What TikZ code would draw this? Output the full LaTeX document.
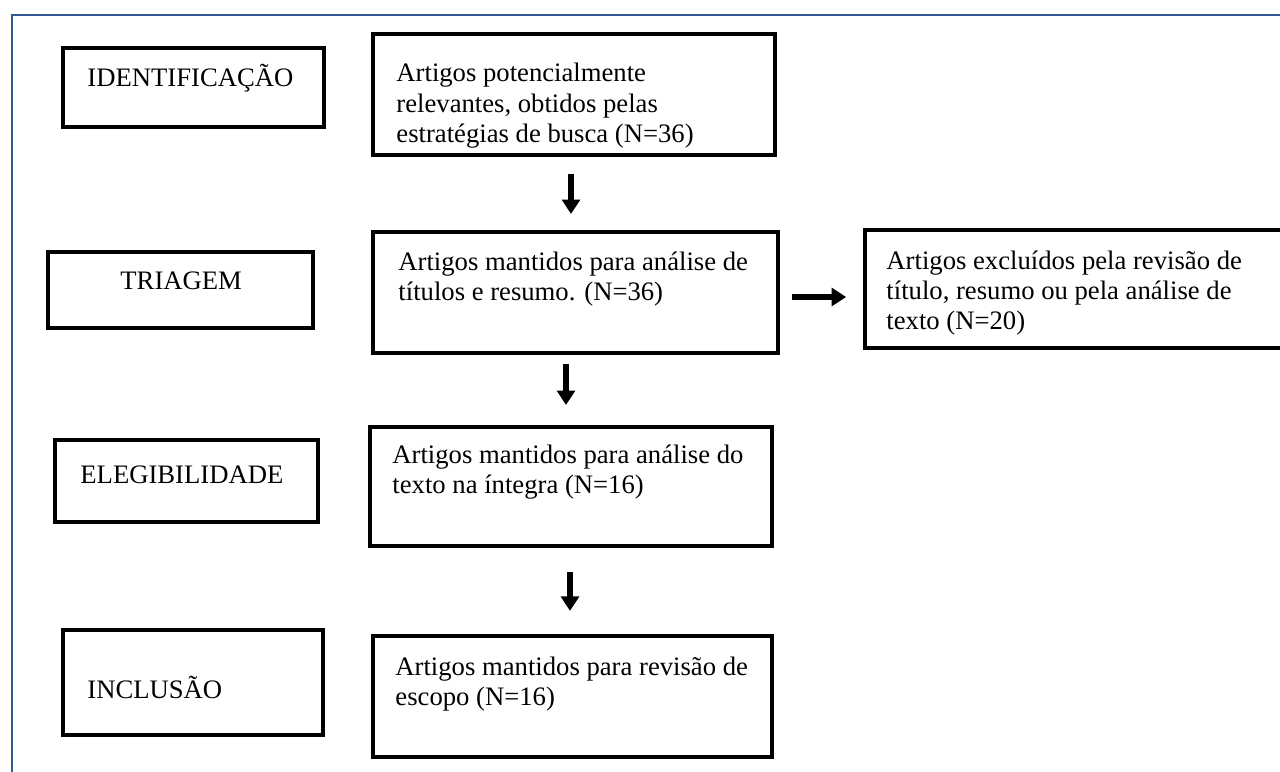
\documentclass[tikz,border=0pt]{standalone}
\usepackage{fontspec}
\setmainfont{Liberation Serif}
\usetikzlibrary{arrows.meta,fit}
\definecolor{frameblue}{RGB}{52,88,150}

\begin{document}
\begin{tikzpicture}[x=0.45pt,y=-0.45pt,
    box/.style={draw,line width=1.8pt,inner sep=0pt},
    txt/.style={anchor=base west,inner sep=0pt,font=\fontsize{12}{13.7}\selectfont},
    arr/.style={line width=2.5pt,-{Triangle[width=8pt,length=6.5pt]}}]

      \useasboundingbox (0,0) rectangle (1280,771);
      \draw[frameblue,line width=1.2pt] (12,15) rectangle (1420,820);

      \begin{scope}[every node/.style={box}]
        \node[fit={(63,48) (324,127)}]   (ident) {};
        \node[fit={(48,252) (313,328)}]  (triag) {};
        \node[fit={(55,440) (318,522)}]  (eleg)  {};
        \node[fit={(63,630) (323,735)}]  (incl)  {};
        \node[fit={(373,34) (775,155)}]  (a1)    {};
        \node[fit={(373,232) (778,353)}] (a2)    {};
        \node[fit={(865,230) (1420,348)}] (excl) {};
        \node[fit={(370,427) (772,546)}] (a3)    {};
        \node[fit={(373,636) (772,757)}] (a4)    {};
      \end{scope}

      \begin{scope}[every node/.style={txt}]
        \node (identt) at (87,87)  {IDENTIFICAÇÃO};
        \node (triagt) at (120,289) {TRIAGEM};
        \node (elegt)  at (80,483) {ELEGIBILIDADE};
        \node (inclt)  at (87,698) {INCLUSÃO};
        \node (a1t) at (396,82) {\parbox[t]{200pt}{Artigos potencialmente\\
          relevantes, obtidos pelas\\estratégias de busca (N=36)}};
        \node (a2t) at (398,270) {\parbox[t]{200pt}{Artigos mantidos para análise de\\
          títulos e resumo. (N=36)}};
        \node (exclt) at (886,269) {\parbox[t]{200pt}{Artigos excluídos pela revisão de\\
          título, resumo ou pela análise de\\texto (N=20)}};
        \node (a3t) at (392,463) {\parbox[t]{200pt}{Artigos mantidos para análise do\\
          texto na íntegra (N=16)}};
        \node (a4t) at (395,675) {\parbox[t]{200pt}{Artigos mantidos para revisão de\\
          escopo (N=16)}};
      \end{scope}

      \draw[arr,shorten <=7.6pt,shorten >=7.2pt] (a1.south -| 571,0) -- (a2.north -| 571,0);
      \draw[arr,shorten <=5.4pt,shorten >=7.6pt] (a2.east |- 0,297) -- (excl.west |- 0,297);
      \draw[arr,shorten <=4pt,shorten >=9pt] (a2.south -| 566,0) -- (a3.north -| 566,0);
      \draw[arr,shorten <=10.8pt,shorten >=10.4pt] (a3.south -| 570,0) -- (a4.north -| 570,0);

    \end{tikzpicture}
\end{document}
